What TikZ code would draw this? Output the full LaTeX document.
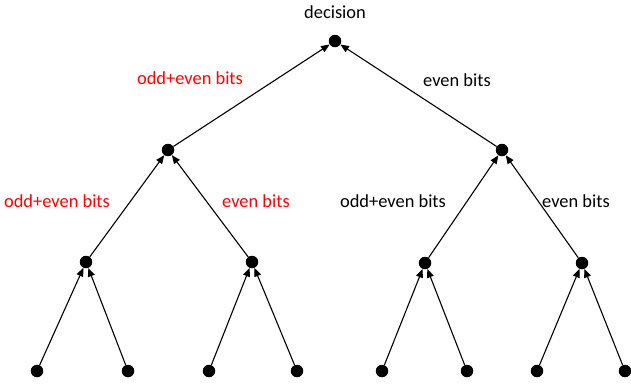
\documentclass[tikz,border=0pt]{standalone}
\usepackage{fontspec}
\setmainfont{Carlito}
\usetikzlibrary{arrows.meta}
\begin{document}
\begin{tikzpicture}[x=1bp,y=-1bp,
  dot/.style={circle,fill=black,inner sep=0pt,minimum size=12.5bp},
  edge/.style={draw=black,line width=1.1bp,-{Triangle[length=8.5bp,width=7bp]}},
  lbl/.style={font=\fontsize{18.5}{21}\selectfont,inner sep=0pt},
  red lbl/.style={lbl,text={rgb,255:red,255;green,0;blue,0}}]
\useasboundingbox (0,0) rectangle (631,383);
\node[dot] (r) at (335,41) {};
\node[dot] (a) at (168,150) {};
\node[dot] (b) at (502,150) {};
\node[dot] (a1) at (86,262) {};
\node[dot] (a2) at (252,262) {};
\node[dot] (b1) at (425,263) {};
\node[dot] (b2) at (582,263) {};
\node[dot] (l1) at (37,371) {};
\node[dot] (l2) at (128,371) {};
\node[dot] (l3) at (209,371) {};
\node[dot] (l4) at (297,371) {};
\node[dot] (l5) at (382,371) {};
\node[dot] (l6) at (467,371) {};
\node[dot] (l7) at (537,371) {};
\node[dot] (l8) at (625,371) {};
\draw[edge] (a) -- (r);
\draw[edge] (b) -- (r);
\draw[edge] (a1) -- (a);
\draw[edge] (a2) -- (a);
\draw[edge] (b1) -- (b);
\draw[edge] (b2) -- (b);
\draw[edge] (l1) -- (a1);
\draw[edge] (l2) -- (a1);
\draw[edge] (l3) -- (a2);
\draw[edge] (l4) -- (a2);
\draw[edge] (l5) -- (b1);
\draw[edge] (l6) -- (b1);
\draw[edge] (l7) -- (b2);
\draw[edge] (l8) -- (b2);
\node[lbl] (t) at (335,12) {decision};
\node[red lbl] (t1) at (190,78) {odd+even bits};
\node[lbl] (t2) at (457,80) {even bits};
\node[red lbl] (t3) at (57,201) {odd+even bits};
\node[red lbl] (t4) at (256,201) {even bits};
\node[lbl] (t5) at (393,201) {odd+even bits};
\node[lbl] (t6) at (576,201) {even bits};
\end{tikzpicture}
\end{document}
